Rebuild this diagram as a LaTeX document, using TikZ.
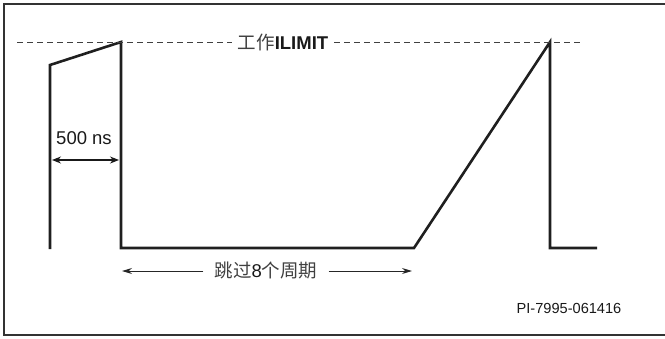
\documentclass[tikz,border=0pt]{standalone}
\usepackage{fontspec}
\setmainfont{Liberation Sans}
\newfontfamily\cjk{Noto Sans CJK SC}
\usetikzlibrary{arrows.meta}
\begin{document}
\begin{tikzpicture}[x=1bp,y=-1bp,
  wave/.style={line width=2.6bp, draw=black!88, line join=miter},
  frameline/.style={line width=1.8bp, draw=black!80},
  limitline/.style={line width=1bp, draw=black!75, dash pattern=on 6bp off 4bp},
  dimarrow/.style={line width=1.2bp, draw=black!90, {Stealth[length=9bp,width=7bp]}-{Stealth[length=9bp,width=7bp]}},
  skiparrow/.style={line width=1bp, draw=black!85, -{Stealth[length=10bp,width=6bp]}},
  lbl/.style={inner sep=0pt, text=black!90}]
\useasboundingbox (0,0) rectangle (665,338);
% frame (open on the right)
\draw[frameline] (665,4) -- (4,4) -- (4,335) -- (665,335);
% waveform points
\coordinate (a) at (50,249);
\coordinate (b) at (50,65);
\coordinate (c) at (121,42);
\coordinate (d) at (121,248);
\coordinate (e) at (414,248);
\coordinate (f) at (550,42);
\coordinate (g) at (550,248);
\coordinate (h) at (597,248);
\draw[wave] (a) -- (b) -- (c) -- (d) -- (e) -- (f) -- (g) -- (h);
% ILIMIT line
\coordinate (dl) at (17,42);
\coordinate (dr) at (583,42);
\node[lbl, inner xsep=6bp] (limit) at (283,42) {\fontsize{18.5bp}{20bp}\selectfont{\cjk\color{black!75}工作}\bfseries ILIMIT};
\draw[limitline] (dl) -- (limit.west);
\draw[limitline] (limit.east) -- (dr);
% 500 ns
\node[lbl] (ns) at (84,138) {\fontsize{18.5bp}{20bp}\selectfont 500 ns};
\coordinate (nsL) at (52,160);
\coordinate (nsR) at (119,160);
\draw[dimarrow] (nsL) -- (nsR);
% skip 8 cycles
\node[lbl, inner xsep=11bp] (skip) at (266,271) {\fontsize{18.5bp}{20bp}\selectfont{\cjk\color{black!75}跳过}8{\cjk\color{black!75}个周期}};
\coordinate (skL) at (122,271);
\coordinate (skR) at (412,271);
\draw[skiparrow] (skip.west) -- (skL);
\draw[skiparrow] (skip.east) -- (skR);
% figure id
\node[lbl] (pid) at (569,308) {\fontsize{14.6bp}{16bp}\selectfont PI-7995-061416};
\end{tikzpicture}
\end{document}
